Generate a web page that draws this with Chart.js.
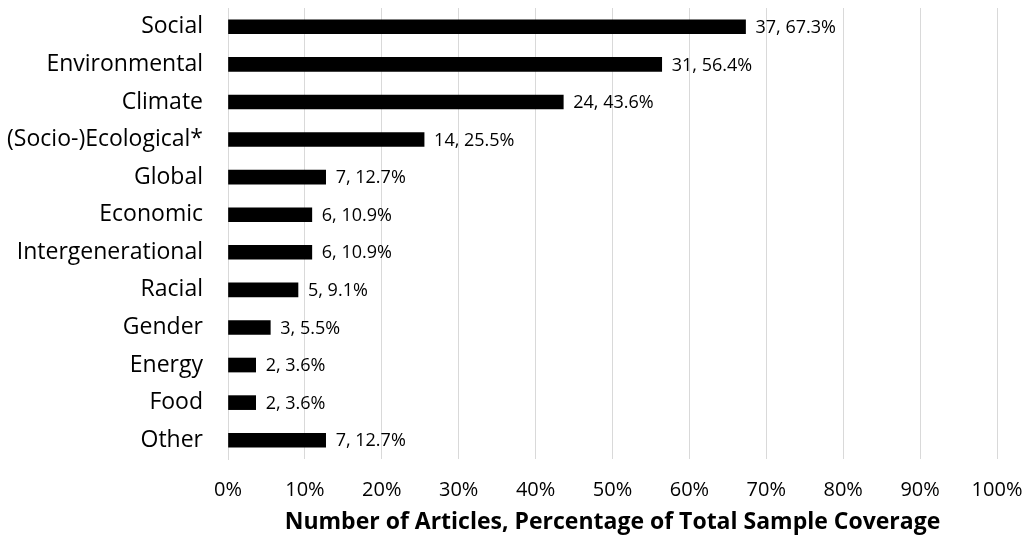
<!DOCTYPE html>
<html>
<head>
<meta charset="utf-8">
<script src="https://cdn.jsdelivr.net/npm/chart.js@4"></script>
<style>
  html, body { margin: 0; padding: 0; background: #fff; }
  #wrap { width: 1031px; height: 541px; }
</style>
</head>
<body>
<div id="wrap"><canvas id="chartJustice"></canvas></div>
<script>
// Donnees
const categories = ['Social', 'Environmental', 'Climate', '(Socio-)Ecological*', 'Global', 'Economic',
  'Intergenerational', 'Racial', 'Gender', 'Energy', 'Food', 'Other'];
const articleCounts = [37, 31, 24, 14, 7, 6, 6, 5, 3, 2, 2, 7];
const percentValues = [67.3, 56.4, 43.6, 25.5, 12.7, 10.9, 10.9, 9.1, 5.5, 3.6, 3.6, 12.7];
const xTicks = [0, 10, 20, 30, 40, 50, 60, 70, 80, 90, 100];

const FONT = "'Open Sans', 'Noto Sans', sans-serif";
const GRID = '#d9d9d9';

// Etiquettes "n, x%" a droite des barres
const barLabels = {
  id: 'barLabels',
  afterDatasetsDraw(chart) {
    const ctx = chart.ctx;
    const meta = chart.getDatasetMeta(0);
    ctx.save();
    ctx.font = '18px ' + FONT;
    ctx.fillStyle = '#000';
    ctx.textBaseline = 'middle';
    ctx.textAlign = 'left';
    meta.data.forEach((bar, i) => {
      ctx.fillText(articleCounts[i] + ', ' + percentValues[i] + '%', bar.x + 10, bar.y + 1);
    });
    ctx.restore();
  },
};

new Chart(document.getElementById('chartJustice'), {
  type: 'bar',
  data: {
    labels: categories,
    datasets: [{
      data: percentValues,
      backgroundColor: '#000',
      barThickness: 14,
    }],
  },
  options: {
    responsive: true,
    maintainAspectRatio: false,
    animation: false,
    indexAxis: 'y',
    layout: { padding: { top: 8, right: 34, left: 0, bottom: 0 } },
    plugins: {
      legend: { display: false },
      tooltip: { enabled: false },
    },
    scales: {
      x: {
        min: 0,
        max: 100,
        afterBuildTicks: (scale) => { scale.ticks = xTicks.map(v => ({ value: v })); },
        afterFit: (scale) => {
          scale.height = 82;
          scale.paddingLeft = 0;
          scale.paddingRight = 0;
        },
        grid: { color: GRID, lineWidth: 1, drawTicks: false },
        border: { display: false },
        ticks: {
          color: '#000',
          font: { family: FONT, size: 20 },
          padding: 19,
          maxRotation: 0,
          callback: (v) => v + '%',
        },
        title: {
          display: true,
          text: 'Number of Articles, Percentage of Total Sample Coverage',
          color: '#000',
          font: { family: FONT, size: 23, weight: 'bold' },
          padding: { top: 0, bottom: 5 },
        },
      },
      y: {
        afterFit: (scale) => {
          scale.width = 228;
          scale.paddingTop = 0;
          scale.paddingBottom = 0;
        },
        grid: { display: false, drawTicks: false },
        border: { display: true, color: GRID },
        ticks: {
          color: '#000',
          font: { family: FONT, size: 23 },
          padding: 25,
        },
      },
    },
  },
  plugins: [barLabels],
});
</script>
</body>
</html>
